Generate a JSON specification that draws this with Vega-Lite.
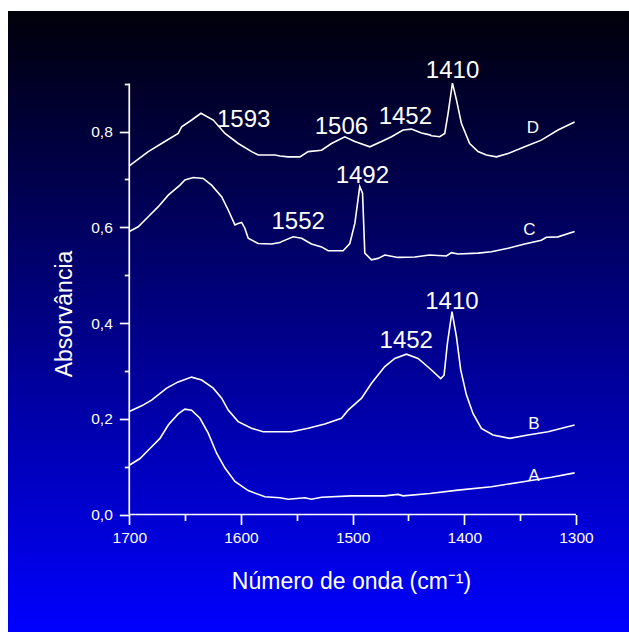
{
  "$schema": "https://vega.github.io/schema/vega-lite/v6.json",
  "width": 621,
  "height": 621,
  "padding": {"left": 8, "top": 11, "right": 0, "bottom": 0},
  "autosize": {"type": "none"},
  "background": "white",
  "config": {"view": {"stroke": null}, "font": "Liberation Sans"},
  "datasets": {
    "curves": [
      {"s":"D","wn":1700,"abs":0.728},{"s":"D","wn":1683,"abs":0.758},{"s":"D","wn":1671.1,"abs":0.775},{"s":"D","wn":1656.2,"abs":0.796},{"s":"D","wn":1653.1,"abs":0.81},{"s":"D","wn":1644.1,"abs":0.824},{"s":"D","wn":1635.8,"abs":0.838},{"s":"D","wn":1624.8,"abs":0.824},{"s":"D","wn":1614.3,"abs":0.796},{"s":"D","wn":1602.4,"abs":0.775},{"s":"D","wn":1590.4,"abs":0.758},{"s":"D","wn":1584.5,"abs":0.751},{"s":"D","wn":1569.6,"abs":0.751},{"s":"D","wn":1565.1,"abs":0.749},{"s":"D","wn":1557.7,"abs":0.747},{"s":"D","wn":1547.2,"abs":0.747},{"s":"D","wn":1539.8,"abs":0.758},{"s":"D","wn":1527.8,"abs":0.761},{"s":"D","wn":1518.9,"abs":0.775},{"s":"D","wn":1507,"abs":0.789},{"s":"D","wn":1498,"abs":0.779},{"s":"D","wn":1484.6,"abs":0.768},{"s":"D","wn":1474.1,"abs":0.779},{"s":"D","wn":1465.2,"abs":0.789},{"s":"D","wn":1454.8,"abs":0.803},{"s":"D","wn":1447.3,"abs":0.805},{"s":"D","wn":1438.3,"abs":0.797},{"s":"D","wn":1430.9,"abs":0.793},{"s":"D","wn":1429.4,"abs":0.791},{"s":"D","wn":1422,"abs":0.789},{"s":"D","wn":1417.5,"abs":0.796},{"s":"D","wn":1414.5,"abs":0.838},{"s":"D","wn":1410.6,"abs":0.901},{"s":"D","wn":1407,"abs":0.866},{"s":"D","wn":1402.6,"abs":0.817},{"s":"D","wn":1395.2,"abs":0.775},{"s":"D","wn":1387.7,"abs":0.758},{"s":"D","wn":1380.2,"abs":0.751},{"s":"D","wn":1371.2,"abs":0.747},{"s":"D","wn":1360.8,"abs":0.754},{"s":"D","wn":1345.9,"abs":0.768},{"s":"D","wn":1331,"abs":0.782},{"s":"D","wn":1316.1,"abs":0.803},{"s":"D","wn":1301.2,"abs":0.82},
      {"s":"C","wn":1700,"abs":0.591},{"s":"C","wn":1692,"abs":0.601},{"s":"C","wn":1683,"abs":0.622},{"s":"C","wn":1674,"abs":0.643},{"s":"C","wn":1665.1,"abs":0.667},{"s":"C","wn":1654.6,"abs":0.688},{"s":"C","wn":1650.2,"abs":0.699},{"s":"C","wn":1642.7,"abs":0.704},{"s":"C","wn":1633.8,"abs":0.702},{"s":"C","wn":1626.3,"abs":0.688},{"s":"C","wn":1617.3,"abs":0.664},{"s":"C","wn":1611.4,"abs":0.636},{"s":"C","wn":1605.4,"abs":0.605},{"s":"C","wn":1602.5,"abs":0.608},{"s":"C","wn":1599.4,"abs":0.61},{"s":"C","wn":1596.5,"abs":0.598},{"s":"C","wn":1593.5,"abs":0.577},{"s":"C","wn":1584.6,"abs":0.566},{"s":"C","wn":1572.6,"abs":0.565},{"s":"C","wn":1565.1,"abs":0.568},{"s":"C","wn":1563.6,"abs":0.57},{"s":"C","wn":1553.2,"abs":0.58},{"s":"C","wn":1545.7,"abs":0.577},{"s":"C","wn":1536.8,"abs":0.565},{"s":"C","wn":1527.8,"abs":0.559},{"s":"C","wn":1521.9,"abs":0.551},{"s":"C","wn":1508.5,"abs":0.551},{"s":"C","wn":1502.5,"abs":0.566},{"s":"C","wn":1498,"abs":0.608},{"s":"C","wn":1493.6,"abs":0.685},{"s":"C","wn":1491.1,"abs":0.671},{"s":"C","wn":1489.1,"abs":0.546},{"s":"C","wn":1483.1,"abs":0.532},{"s":"C","wn":1477.2,"abs":0.535},{"s":"C","wn":1471.2,"abs":0.542},{"s":"C","wn":1459.3,"abs":0.537},{"s":"C","wn":1444.3,"abs":0.538},{"s":"C","wn":1430.9,"abs":0.542},{"s":"C","wn":1416,"abs":0.54},{"s":"C","wn":1411.5,"abs":0.547},{"s":"C","wn":1405.6,"abs":0.544},{"s":"C","wn":1387.7,"abs":0.546},{"s":"C","wn":1375.7,"abs":0.549},{"s":"C","wn":1360.8,"abs":0.556},{"s":"C","wn":1345.9,"abs":0.565},{"s":"C","wn":1331,"abs":0.573},{"s":"C","wn":1326.5,"abs":0.579},{"s":"C","wn":1316.1,"abs":0.58},{"s":"C","wn":1301.2,"abs":0.591},
      {"s":"B","wn":1700,"abs":0.215},{"s":"B","wn":1688.9,"abs":0.227},{"s":"B","wn":1680,"abs":0.239},{"s":"B","wn":1666.5,"abs":0.264},{"s":"B","wn":1656.2,"abs":0.277},{"s":"B","wn":1644.2,"abs":0.287},{"s":"B","wn":1635.2,"abs":0.281},{"s":"B","wn":1624.8,"abs":0.264},{"s":"B","wn":1617.3,"abs":0.243},{"s":"B","wn":1611.4,"abs":0.218},{"s":"B","wn":1602.5,"abs":0.194},{"s":"B","wn":1590.5,"abs":0.18},{"s":"B","wn":1580.1,"abs":0.173},{"s":"B","wn":1565.1,"abs":0.173},{"s":"B","wn":1554.7,"abs":0.173},{"s":"B","wn":1539.8,"abs":0.18},{"s":"B","wn":1524.9,"abs":0.189},{"s":"B","wn":1510,"abs":0.201},{"s":"B","wn":1504,"abs":0.218},{"s":"B","wn":1492,"abs":0.243},{"s":"B","wn":1483.1,"abs":0.274},{"s":"B","wn":1471.2,"abs":0.309},{"s":"B","wn":1462.2,"abs":0.326},{"s":"B","wn":1451.8,"abs":0.335},{"s":"B","wn":1441.4,"abs":0.326},{"s":"B","wn":1430.9,"abs":0.305},{"s":"B","wn":1421.1,"abs":0.284},{"s":"B","wn":1418.1,"abs":0.291},{"s":"B","wn":1415.1,"abs":0.358},{"s":"B","wn":1411,"abs":0.424},{"s":"B","wn":1407,"abs":0.371},{"s":"B","wn":1403.2,"abs":0.302},{"s":"B","wn":1398.1,"abs":0.25},{"s":"B","wn":1392.2,"abs":0.211},{"s":"B","wn":1384.7,"abs":0.18},{"s":"B","wn":1374.3,"abs":0.166},{"s":"B","wn":1359.3,"abs":0.159},{"s":"B","wn":1342.9,"abs":0.166},{"s":"B","wn":1325,"abs":0.173},{"s":"B","wn":1301.2,"abs":0.187},
      {"s":"A","wn":1700,"abs":0.103},{"s":"A","wn":1690.4,"abs":0.117},{"s":"A","wn":1681.5,"abs":0.138},{"s":"A","wn":1672.5,"abs":0.159},{"s":"A","wn":1665.1,"abs":0.187},{"s":"A","wn":1656.2,"abs":0.21},{"s":"A","wn":1650.2,"abs":0.22},{"s":"A","wn":1644.2,"abs":0.218},{"s":"A","wn":1636.7,"abs":0.201},{"s":"A","wn":1629.3,"abs":0.17},{"s":"A","wn":1621.8,"abs":0.128},{"s":"A","wn":1614.3,"abs":0.097},{"s":"A","wn":1605.4,"abs":0.069},{"s":"A","wn":1593.5,"abs":0.05},{"s":"A","wn":1578.6,"abs":0.037},{"s":"A","wn":1565.1,"abs":0.035},{"s":"A","wn":1557.7,"abs":0.032},{"s":"A","wn":1542.8,"abs":0.035},{"s":"A","wn":1536.8,"abs":0.032},{"s":"A","wn":1527.8,"abs":0.036},{"s":"A","wn":1501,"abs":0.039},{"s":"A","wn":1471.2,"abs":0.039},{"s":"A","wn":1459.3,"abs":0.042},{"s":"A","wn":1454.8,"abs":0.039},{"s":"A","wn":1430.9,"abs":0.044},{"s":"A","wn":1405.6,"abs":0.051},{"s":"A","wn":1375.7,"abs":0.058},{"s":"A","wn":1345.9,"abs":0.069},{"s":"A","wn":1322,"abs":0.078},{"s":"A","wn":1301.2,"abs":0.087}
    ],
    "axislines": [
      {"wn":1700,"wn2":1300,"abs":0,"abs2":0},
      {"wn":1700,"wn2":1700,"abs":0,"abs2":0.9}
    ],
    "peaks": [
      {"wn":1410.5,"abs":0.911,"t":"1410"},
      {"wn":1597.6,"abs":0.809,"t":"1593"},
      {"wn":1510,"abs":0.795,"t":"1506"},
      {"wn":1452.8,"abs":0.816,"t":"1452"},
      {"wn":1491.3,"abs":0.692,"t":"1492"},
      {"wn":1548.8,"abs":0.596,"t":"1552"},
      {"wn":1452,"abs":0.347,"t":"1452"},
      {"wn":1411.1,"abs":0.429,"t":"1410"}
    ],
    "names": [
      {"wn":1338.5,"abs":0.797,"t":"D"},
      {"wn":1341.6,"abs":0.584,"t":"C"},
      {"wn":1337.7,"abs":0.179,"t":"B"},
      {"wn":1337.7,"abs":0.071,"t":"A"}
    ]
  },
  "encoding": {
    "x": {"field": "wn", "type": "quantitative",
      "scale": {"domain": [1808.6, 1252.5], "nice": false, "zero": false},
      "axis": {"orient": "bottom", "offset": -117.5, "zindex": 1, "domain": false, "grid": false,
        "values": [1700,1650,1600,1550,1500,1450,1400,1350,1300],
        "tickColor": "white", "tickWidth": 1.7,
        "tickSize": {"condition": {"test": "datum.value % 100 === 0", "value": 10}, "value": 6},
        "labelExpr": "datum.value % 100 === 0 ? format(datum.value,'d') : ''",
        "labelColor": "white", "labelFont": "Liberation Sans", "labelFontSize": 15.5, "labelPadding": 6,
        "labelFlush": false, "labelOverlap": false,
        "title": "Número de onda (cm⁻¹)", "titleColor": "white", "titleFont": "Liberation Sans", "titleFontSize": 23, "titleFontWeight": "normal",
        "titleX": 343, "titleY": 74, "titleAlign": "center", "titleBaseline": "alphabetic"}},
    "y": {"field": "abs", "type": "quantitative",
      "scale": {"domain": [-0.2454, 1.0517], "nice": false, "zero": false},
      "axis": {"orient": "left", "offset": -121.3, "zindex": 1, "domain": false, "grid": false,
        "values": [0,0.1,0.2,0.3,0.4,0.5,0.6,0.7,0.8,0.9],
        "tickColor": "white", "tickWidth": 1.7,
        "tickSize": {"condition": {"test": "round(datum.value*10) % 2 === 0", "value": 10}, "value": 5},
        "labelExpr": "round(datum.value*10) % 2 === 0 ? replace(format(datum.value,'.1f'),'.',',') : ''",
        "labelColor": "white", "labelFont": "Liberation Sans", "labelFontSize": 15.5, "labelPadding": 7,
        "labelFlush": false, "labelOverlap": false,
        "title": "Absorvância", "titleColor": "white", "titleFont": "Liberation Sans", "titleFontSize": 23, "titleFontWeight": "normal",
        "titleX": -65, "titleY": 302.5, "titleAlign": "center", "titleBaseline": "middle", "titleAngle": 270}}
  },
  "layer": [
    {
      "data": {"values": [{}]},
      "mark": {"type": "rect", "color": {"gradient": "linear", "x1": 0, "y1": 0, "x2": 0, "y2": 1, "stops": [{"offset": 0, "color": "#00000a"}, {"offset": 1, "color": "#0000ff"}]}},
      "encoding": {"x": null, "y": null}
    },
    {
      "data": {"name": "curves"},
      "mark": {"type": "line", "color": "white", "strokeWidth": 1.6},
      "encoding": {"detail": {"field": "s"}}
    },
    {
      "data": {"name": "axislines"},
      "mark": {"type": "rule", "color": "white", "strokeWidth": 1.7},
      "encoding": {
        "x2": {"field": "wn2"},
        "y2": {"field": "abs2"}
      }
    },
    {
      "data": {"name": "peaks"},
      "mark": {"type": "text", "color": "white", "font": "Liberation Sans", "fontSize": 24, "align": "center", "baseline": "alphabetic"},
      "encoding": {"text": {"field": "t"}}
    },
    {
      "data": {"name": "names"},
      "mark": {"type": "text", "color": "white", "font": "Liberation Sans", "fontSize": 17, "align": "center", "baseline": "alphabetic"},
      "encoding": {"text": {"field": "t"}}
    }
  ]
}
